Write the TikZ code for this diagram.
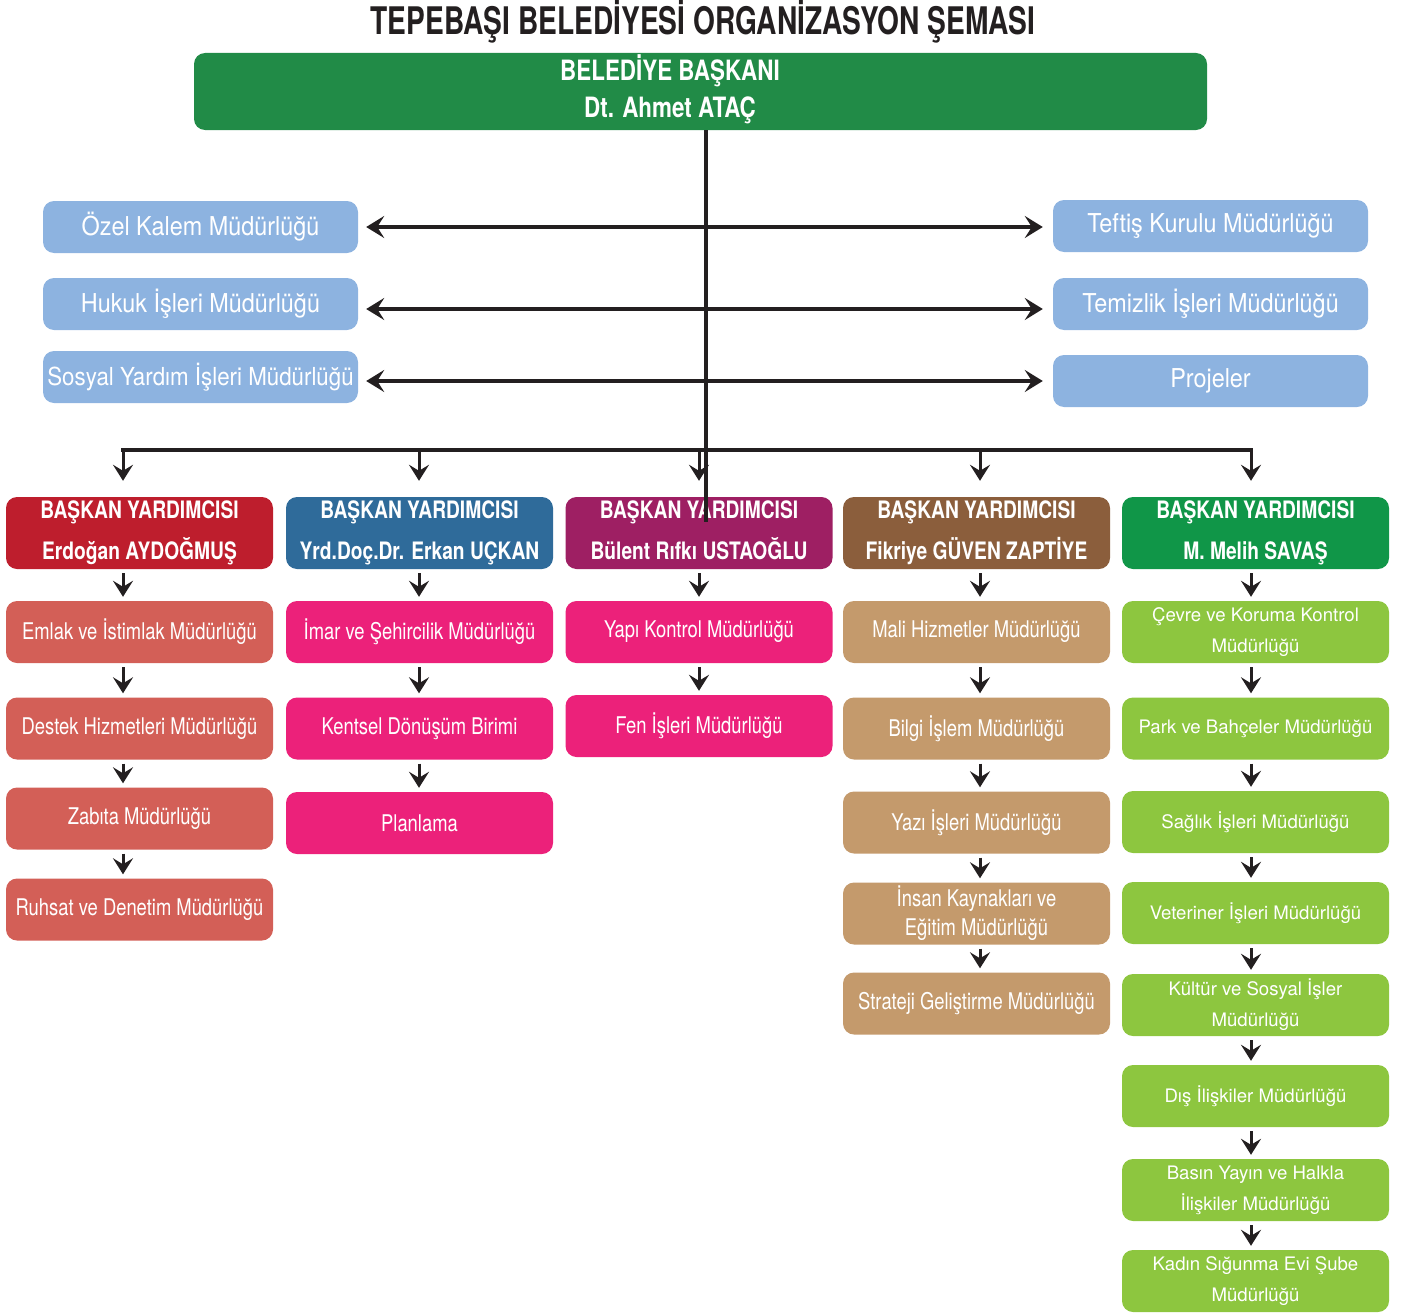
\documentclass[tikz,border=0pt]{standalone}
\usepackage{fontspec}
\setmainfont{TeX Gyre Heros}[FakeStretch=0.8]
\newfontfamily\titlefont{TeX Gyre Heros}[FakeStretch=0.74]
\newfontfamily\bluefont{TeX Gyre Heros}[FakeStretch=0.9]
\newfontfamily\widefont{TeX Gyre Heros}
\usetikzlibrary{arrows.meta}
\definecolor{ink}{HTML}{231F20}
\definecolor{topgreen}{HTML}{218B47}
\definecolor{lblue}{HTML}{8DB3E0}
\definecolor{vpred}{HTML}{BE1E2D}
\definecolor{vpblue}{HTML}{2F6B9A}
\definecolor{vppurple}{HTML}{9E1F63}
\definecolor{vpbrown}{HTML}{8B5E3C}
\definecolor{vpgreen}{HTML}{109648}
\definecolor{salmon}{HTML}{D35F57}
\definecolor{pink}{HTML}{EC217A}
\definecolor{tan}{HTML}{C49A6C}
\definecolor{lgreen}{HTML}{8DC63F}
\begin{document}
\begin{tikzpicture}[x=1pt,y=-1pt,
  box/.style={rounded corners=11pt, minimum width=267pt, minimum height=62pt, inner sep=0pt, align=center, text=white},
  bluebox/.style={box, fill=lblue, minimum width=315pt, minimum height=52pt, font=\bluefont\fontsize{26}{30}\selectfont},
  vpbox/.style={box, minimum height=72pt, font=\bfseries\fontsize{24}{41}\selectfont},
  subbox/.style={box, font=\fontsize{23}{29}\selectfont},
  gbox/.style={box, fill=lgreen, font=\widefont\fontsize{18.6}{31}\selectfont},
  tip/.tip={Stealth[length=16pt,width=20pt,inset=6pt]},
  htip/.tip={Stealth[length=18pt,width=22pt,inset=7pt]},
  arr/.style={draw=ink, line width=3pt, -tip},
  harr/.style={draw=ink, line width=4.5pt, htip-htip, shorten <=8pt, shorten >=10pt},
  trunkline/.style={draw=ink, line width=4.5pt}
]
\useasboundingbox (0,0) rectangle (1406,1314);

\node[font=\titlefont\bfseries\fontsize{38}{40}\selectfont, text=ink] (title) at (703,21) {TEPEBAŞI BELEDİYESİ ORGANİZASYON ŞEMASI};

\node[box, fill=topgreen, minimum width=1013pt, minimum height=77pt] (pres) at (700.5,91.5) {};
\node[font=\bfseries\fontsize{28}{37}\selectfont, text=white, align=center] (prestext) at (670,89) {BELEDİYE BAŞKANI\\Dt. Ahmet ATAÇ};

% staff units
\node[bluebox] (ozel) at (200.5,227) {Özel Kalem Müdürlüğü};
\node[bluebox] (hukuk) at (200.5,304) {Hukuk İşleri Müdürlüğü};
\node[bluebox, font=\bluefont\fontsize{24.8}{30}\selectfont] (sosyal) at (200.5,377) {Sosyal Yardım İşleri Müdürlüğü};
\node[bluebox] (teftis) at (1210.5,226) {Teftiş Kurulu Müdürlüğü};
\node[bluebox] (temizlik) at (1210.5,304) {Temizlik İşleri Müdürlüğü};
\node[bluebox] (projeler) at (1210.5,381) {Projeler};

% vice mayors
\node[vpbox, fill=vpred] (vp1) at (139.5,533) {BAŞKAN YARDIMCISI\\Erdoğan AYDOĞMUŞ};
\node[vpbox, fill=vpblue] (vp2) at (419.5,533) {BAŞKAN YARDIMCISI\\Yrd.Doç.Dr. Erkan UÇKAN};
\node[vpbox, fill=vppurple] (vp3) at (699,533) {BAŞKAN YARDIMCISI\\Bülent Rıfkı USTAOĞLU\vphantom{g}};
\node[vpbox, fill=vpbrown] (vp4) at (976.5,533) {BAŞKAN YARDIMCISI\\Fikriye GÜVEN ZAPTİYE};
\node[vpbox, fill=vpgreen] (vp5) at (1255.5,533) {BAŞKAN YARDIMCISI\\M. Melih SAVAŞ};

% column 1
\node[subbox, fill=salmon] (emlak) at (139.5,632) {Emlak ve İstimlak Müdürlüğü};
\node[subbox, fill=salmon] (destek) at (139.5,728.5) {Destek Hizmetleri Müdürlüğü};
\node[subbox, fill=salmon] (zabita) at (139.5,818.5) {Zabıta Müdürlüğü};
\node[subbox, fill=salmon] (ruhsat) at (139.5,909.5) {Ruhsat ve Denetim Müdürlüğü};
% column 2
\node[subbox, fill=pink] (imar) at (419.5,632) {İmar ve Şehircilik Müdürlüğü};
\node[subbox, fill=pink] (kentsel) at (419.5,728.5) {Kentsel Dönüşüm Birimi};
\node[subbox, fill=pink] (planlama) at (419.5,823) {Planlama};
% column 3
\node[subbox, fill=pink] (yapi) at (699,632) {Yapı Kontrol Müdürlüğü};
\node[subbox, fill=pink] (fen) at (699,726) {Fen İşleri Müdürlüğü};
% column 4
\node[subbox, fill=tan] (mali) at (976.5,632) {Mali Hizmetler Müdürlüğü};
\node[subbox, fill=tan] (bilgi) at (976.5,728.5) {Bilgi İşlem Müdürlüğü};
\node[subbox, fill=tan] (yazi) at (976.5,822.5) {Yazı İşleri Müdürlüğü};
\node[subbox, fill=tan] (insan) at (976.5,913.5) {İnsan Kaynakları ve\\Eğitim Müdürlüğü};
\node[subbox, fill=tan] (strateji) at (976.5,1003.5) {Strateji Geliştirme Müdürlüğü};
% column 5
\node[gbox] (cevre) at (1255.5,632) {Çevre ve Koruma Kontrol\\Müdürlüğü};
\node[gbox] (park) at (1255.5,728.5) {Park ve Bahçeler Müdürlüğü};
\node[gbox] (saglik) at (1255.5,822) {Sağlık İşleri Müdürlüğü};
\node[gbox] (veteriner) at (1255.5,913) {Veteriner İşleri Müdürlüğü};
\node[gbox] (kultur) at (1255.5,1005) {Kültür ve Sosyal İşler\\Müdürlüğü};
\node[gbox] (dis) at (1255.5,1096) {Dış İlişkiler Müdürlüğü};
\node[gbox] (basin) at (1255.5,1190) {Basın Yayın ve Halkla\\İlişkiler Müdürlüğü};
\node[gbox] (kadin) at (1255.5,1281) {Kadın Sığunma Evi Şube\\Müdürlüğü};

% helper coordinates
\coordinate (c1) at (123,0);
\coordinate (c2) at (419,0);
\coordinate (c3) at (699,0);
\coordinate (c4) at (980,0);
\coordinate (c5) at (1251,0);
\coordinate (bus) at (0,450);
\coordinate (tend) at (706,522);

% staff arrows
\draw[harr] (ozel.east) -- (ozel.east -| teftis.west);
\draw[harr] ([yshift=-5pt]hukuk.east) -- ([yshift=-5pt]hukuk.east -| temizlik.west);
\draw[harr] (sosyal.east |- projeler.west) -- (projeler.west);

% bus and vice mayor arrows
\draw[trunkline, line width=4pt, line cap=rect] (c1 |- bus) -- (c5 |- bus);
\foreach \v/\c in {vp1/c1, vp2/c2, vp3/c3, vp4/c4, vp5/c5}
  \draw[arr, shorten >=16pt] (\c |- bus) -- (\v.north -| \c);

% chains
\foreach \a/\b/\c in {vp1/emlak/c1, emlak/destek/c1, destek/zabita/c1, zabita/ruhsat/c1,
  vp2/imar/c2, imar/kentsel/c2, kentsel/planlama/c2,
  vp3/yapi/c3, yapi/fen/c3,
  vp4/mali/c4, mali/bilgi/c4, bilgi/yazi/c4, yazi/insan/c4, insan/strateji/c4,
  vp5/cevre/c5, cevre/park/c5, park/saglik/c5, saglik/veteriner/c5, veteriner/kultur/c5,
  kultur/dis/c5, dis/basin/c5, basin/kadin/c5}
  \draw[arr, shorten <=4pt, shorten >=4pt] (\a.south -| \c) -- (\b.north -| \c);

% trunk
\draw[trunkline] (pres.south -| tend) -- (tend);
\end{tikzpicture}
\end{document}
